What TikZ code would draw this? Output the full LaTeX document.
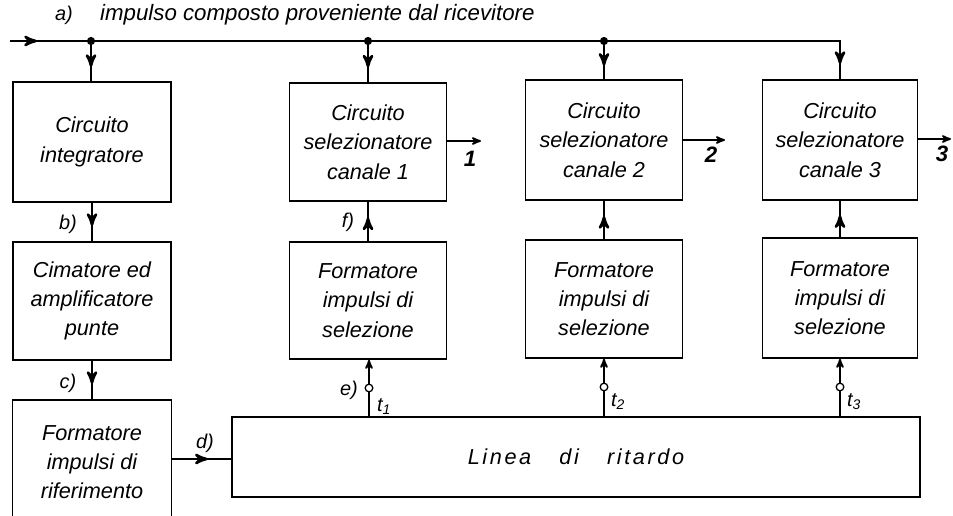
\documentclass[tikz,border=0pt]{standalone}
\usepackage{fontspec}
\setmainfont{Liberation Sans}
\usetikzlibrary{arrows, positioning, calc, decorations.markings}

\begin{document}
\begin{tikzpicture}[x=0.03cm, y=-0.03cm,
		blocco/.style={draw, line width=1.3pt, align=center, inner sep=0pt, font=\itshape\fontsize{18.5}{25}\selectfont},
		linea/.style={line width=1.6pt},
		frecciamedia/.style={linea, postaction={decorate}, decoration={markings, mark=at position #1 with {\arrow[scale=1.4]{stealth'}}}},
		frecciamedia/.default=0.6,
		freccia/.style={linea, -stealth'},
		etichetta/.style={font=\itshape\fontsize{17}{19}\selectfont},
		uscita/.style={font=\bfseries\itshape\fontsize{19}{21}\selectfont},
		nodo/.style={circle, fill, inner sep=0pt, minimum size=7pt},
		presa/.style={circle, draw, line width=1.1pt, fill=white, inner sep=0pt, minimum size=6.5pt}]
	\useasboundingbox (0,0) rectangle (953,516);
	
	% Blocchi a sinistra
	\node[blocco, minimum width=4.74cm, minimum height=3.6cm] (integ) at (92,142) {Circuito\\integratore};
	\node[blocco, minimum width=4.74cm, minimum height=3.54cm] (cima) at (92,301) {Cimatore ed\\amplificatore\\punte};
	\node[blocco, minimum width=4.77cm, minimum height=3.72cm] (rif) at (92,462) {Formatore\\impulsi di\\riferimento};
	
	% Circuiti selezionatori
	\node[blocco, minimum width=4.71cm, minimum height=3.54cm] (can1) at (368,142) {Circuito\\selezionatore\\canale 1};
	\node[blocco, minimum width=4.71cm, minimum height=3.6cm] (can2) at (604,140) {Circuito\\selezionatore\\canale 2};
	\node[blocco, minimum width=4.65cm, minimum height=3.6cm] (can3) at (840,140) {Circuito\\selezionatore\\canale 3};
	
	% Formatori impulsi di selezione
	\node[blocco, minimum width=4.71cm, minimum height=3.51cm] (form1) at (368,300.5) {Formatore\\impulsi di\\selezione};
	\node[blocco, minimum width=4.71cm, minimum height=3.54cm] (form2) at (604,299) {Formatore\\impulsi di\\selezione};
	\node[blocco, minimum width=4.65cm, minimum height=3.6cm] (form3) at (840,298) {Formatore\\impulsi di\\selezione};
	
	% Linea di ritardo
	\node[blocco, minimum width=20.64cm, minimum height=2.4cm] (rit) at (576,457) {\addfontfeature{LetterSpace=12}Linea\hspace{1.3em}di\hspace{1.3em}ritardo};
	
	% Linea d'ingresso
	\coordinate (ingresso) at (10,41);
	\node[nodo] (j1) at (91,41) {};
	\node[nodo] (j2) at (368,41) {};
	\node[nodo] (j3) at (604,41) {};
	\coordinate (angolo) at (840,41);
	\draw[frecciamedia=0.35] (ingresso) -- (j1);
	\draw[linea] (j1) -- (j2) -- (j3);
	\draw[linea] (j3) -- (angolo) -- (can3.north);
	\draw[frecciamedia] (angolo) -- (can3.north);
	\draw[frecciamedia] (j1) -- (j1 |- integ.north);
	\draw[frecciamedia] (j2) -- (j2 |- can1.north);
	\draw[frecciamedia] (j3) -- (j3 |- can2.north);
	
	% Catena di sinistra
	\draw[frecciamedia] (integ) -- (cima);
	\draw[frecciamedia] (cima) -- (rif);
	\draw[frecciamedia] (rif.east |- 0,459) -- (rit.west |- 0,459);
	
	% Dai formatori ai circuiti
	\draw[frecciamedia] (form1) -- (can1);
	\draw[frecciamedia] (form2) -- (can2);
	\draw[frecciamedia] (form3) -- (can3);
	
	% Prese sulla linea di ritardo
	\node[presa] (p1) at (369,388) {};
	\node[presa] (p2) at (604,387) {};
	\node[presa] (p3) at (840,387) {};
	\draw[linea] (rit.north -| p1) -- (p1);
	\draw[linea] (rit.north -| p2) -- (p2);
	\draw[linea] (rit.north -| p3) -- (p3);
	\draw[freccia] (p1) -- (p1 |- form1.south);
	\draw[freccia] (p2) -- (p2 |- form2.south);
	\draw[freccia] (p3) -- (p3 |- form3.south);
	
	% Uscite
	\coordinate (u1) at (481,141);
	\coordinate (u2) at (725,140);
	\coordinate (u3) at (951,139);
	\draw[freccia] (can1.east |- u1) -- (u1);
	\draw[freccia] (can2.east |- u2) -- (u2);
	\draw[freccia] (can3.east |- u3) -- (u3);
	\node[uscita] (n1) at (470,159) {1};
	\node[uscita] (n2) at (711,155) {2};
	\node[uscita] (n3) at (942,154) {3};
	
	% Etichette
	\node[etichetta] (la) at (64,15) {a)};
	\node[etichetta, anchor=west, inner sep=0pt, font=\itshape\fontsize{19}{21}\selectfont] (titolo) at (100,15) {impulso composto proveniente dal ricevitore};
	\node[etichetta] (lb) at (68,224) {b)};
	\node[etichetta] (lc) at (68,383) {c)};
	\node[etichetta] (ld) at (205,443) {d)};
	\node[etichetta] (le) at (349,390) {e)};
	\node[etichetta] (lf) at (348,222) {f)};
	\node[etichetta] (t1) at (384,407) {t\textsubscript{1}};
	\node[etichetta] (t2) at (618,402) {t\textsubscript{2}};
	\node[etichetta] (t3) at (854,402) {t\textsubscript{3}};
\end{tikzpicture}
\end{document}
